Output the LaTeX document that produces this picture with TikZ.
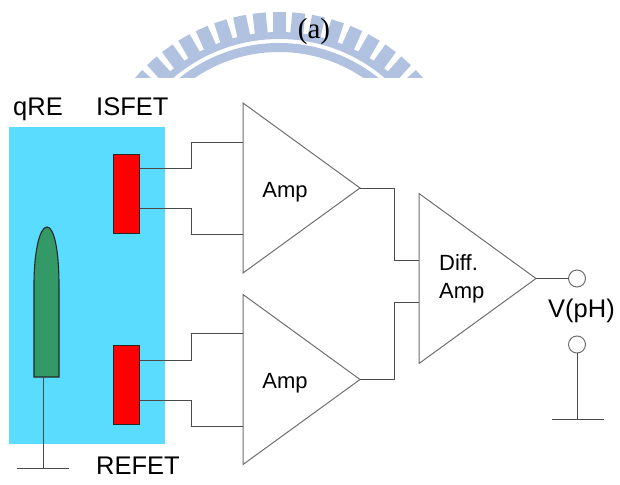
\documentclass[tikz,border=0pt]{standalone}
\usepackage{fontspec}
\setmainfont{Liberation Sans}
\newfontfamily\serifcap{Liberation Serif}
\usetikzlibrary{shapes.geometric, positioning}
\definecolor{WireGray}{HTML}{4A4A4A}
\definecolor{TankBlue}{HTML}{5ADCFF}
\definecolor{ElectrodeGreen}{HTML}{339966}
\definecolor{MarkBlue}{HTML}{B0C2E0}
\tikzset{
    % Amplifier triangle
    amp/.style={
        isosceles triangle,
        isosceles triangle stretches,
        shape border rotate=0,
        draw=WireGray!80,
        line width=1pt,
        minimum width=170pt,
        minimum height=117pt,
        inner sep=0pt,
        outer sep=0pt,
        anchor=lower side
    },
    % Red sensing element
    fet/.style={
        rectangle,
        draw=black!85,
        fill=red,
        line width=1.1pt,
        minimum width=26pt,
        minimum height=79pt,
        inner sep=0pt,
        outer sep=0pt
    },
    % Output terminal
    terminal/.style={
        circle,
        draw=WireGray!80,
        fill=white,
        line width=1pt,
        minimum size=17pt,
        inner sep=0pt,
        outer sep=0pt
    },
    % Connecting lines
    wire/.style={draw=WireGray, line width=1pt},
    % Text labels
    biglabel/.style={font=\fontsize{25.5}{28}\selectfont, inner sep=0pt, anchor=base west},
    amplabel/.style={font=\fontsize{22}{28}\selectfont, inner sep=0pt, align=left}
}
\begin{document}
\begin{tikzpicture}[x=1pt, y=-1pt]
    \useasboundingbox (0,0) rectangle (620,484);

    % Watermark behind the caption
    \begin{scope}
        \clip (0,0) rectangle (620,78);
        \foreach \a in {0,6,...,54} {
            \fill [MarkBlue, rotate around={\a:(279,202)}] (272.5,12) rectangle (285.5,33);
            \fill [MarkBlue, rotate around={-\a:(279,202)}] (272.5,12) rectangle (285.5,33);
        }
        \draw [MarkBlue, line width=7pt] (279,202) ++(-166.5,0) arc [start angle=180, end angle=0, radius=166.5, y radius=-166.5];
        \draw [MarkBlue, line width=9pt] (279,202) ++(-154.5,0) arc [start angle=180, end angle=0, radius=154.5, y radius=-154.5];
    \end{scope}

    % Caption
    \node (caption) [font=\serifcap\fontsize{29}{30}\selectfont, inner sep=0pt] at (314,32) {(a)};

    % Tank and electrodes
    \node (tank) [rectangle, fill=TankBlue, minimum width=156pt, minimum height=317pt, inner sep=0pt, outer sep=0pt] at (87,285.5) {};
    \draw [draw=black!85, fill=ElectrodeGreen, line width=1.1pt] (34,377) -- (34,285) .. controls (34,250) and (40,227) .. (47,227) .. controls (54,227) and (59,250) .. (59,285) -- (59,377) -- cycle;
    \coordinate (qrefoot) at (43,377);
    \coordinate (qreground) at (43,468);
    \draw [wire] (qrefoot) -- (qreground);
    \draw [wire] ([xshift=-26pt]qreground) -- ([xshift=26pt]qreground);

    \node (isfet) [fet] at (126.5,194) {};
    \node (refet) [fet, below=112pt of isfet] {};

    % Amplifiers
    \node (amp1) [amp] at (243,188) {};
    \node (amp2) [amp] at (243,379.5) {};
    \node (diff) [amp] at (419,278.5) {};
    \node (amp1text) [amplabel] at (285,192) {Amp};
    \node (amp2text) [amplabel] at (285,383) {Amp};
    \node (difftext) [amplabel, anchor=west] at (439,279) {Diff.\\Amp};

    % Output terminals
    \node (vout) [terminal, at={([xshift=41pt]diff.apex)}] {};
    \node (vref) [terminal, below=49pt of vout] {};
    \coordinate [below=66pt of vref] (vground);
    \draw [wire] (vref) -- (vground);
    \draw [wire] ([xshift=-25pt]vground) -- ([xshift=27pt]vground);

    % Wiring
    \draw [wire] ([yshift=26pt]isfet.east) -- ++(52,0) |- ([yshift=46pt]amp1.lower side);
    \draw [wire] ([yshift=-14pt]isfet.east) -- ++(52,0) |- ([yshift=-46pt]amp1.lower side);
    \draw [wire] ([yshift=25pt]refet.east) -- ++(52,0) |- ([yshift=46.5pt]amp2.lower side);
    \draw [wire] ([yshift=-15pt]refet.east) -- ++(52,0) |- ([yshift=-46.5pt]amp2.lower side);
    \draw [wire] (amp1.apex) -- ++(34,0) |- ([yshift=18.5pt]diff.lower side);
    \draw [wire] (amp2.apex) -- ++(34,0) |- ([yshift=-23.5pt]diff.lower side);
    \draw [wire] (diff.apex) -- (vout);

    % Labels
    \node (qrelabel) [biglabel] at (13,115) {qRE};
    \node (isfetlabel) [biglabel] at (96,115) {ISFET};
    \node (refetlabel) [biglabel] at (96,474) {REFET};
    \node (vlabel) [biglabel] at (548,317) {V(pH)};
\end{tikzpicture}
\end{document}
